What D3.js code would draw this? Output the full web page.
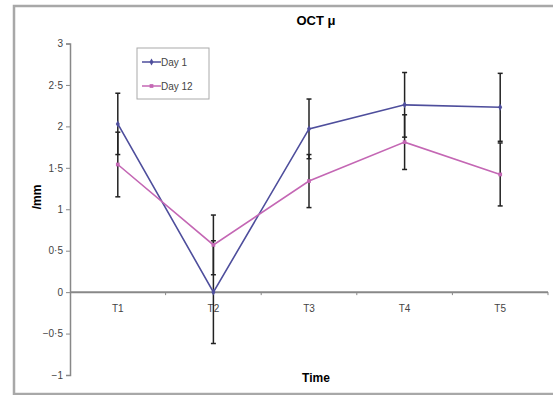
<!DOCTYPE html>
<html>
<head>
<meta charset="utf-8">
<script src="https://cdn.jsdelivr.net/npm/d3@7"></script>
<style>
  body { margin: 0; background: #fff; }
  svg { display: block; font-family: "Liberation Sans", Arial, sans-serif; }
</style>
</head>
<body>
<div id="container"></div>
<script>
// data
const categories = ["T1", "T2", "T3", "T4", "T5"];
const day1 = [2.03, 0.0, 1.97, 2.26, 2.23];
const day1Err = [0.37, 0.62, 0.36, 0.39, 0.41];
const day12 = [1.54, 0.57, 1.34, 1.81, 1.42];
const day12Err = [0.39, 0.36, 0.32, 0.33, 0.38];
const yTicks = [-1, -0.5, 0, 0.5, 1, 1.5, 2, 2.5, 3];
const seriesNames = ["Day 1", "Day 12"];

const w = 553, h = 395;

const svg = d3.select("#container")
              .append("svg")
              .attr("width", w)
              .attr("height", h);

// frame
svg.append("rect")
   .attr("x", 14).attr("y", 6)
   .attr("width", w + 10).attr("height", h - 7)
   .attr("fill", "#fff")
   .attr("stroke", "#a8a8a8")
   .attr("stroke-width", 2.5);

// scales
const xScale = d3.scaleBand()
                 .domain(categories)
                 .range([70, 548]);
const yScale = d3.scaleLinear()
                 .domain([-1, 3])
                 .range([375, 43.5]);

const fmt = (v) => (v < 0 ? "\u2212" : "") + String(Math.abs(v)).replace(".", "\u00b7");

// y axis
const yAxis = d3.axisLeft(yScale)
                .tickValues(yTicks)
                .tickSize(4)
                .tickFormat(fmt);
const gy = svg.append("g")
   .attr("transform", "translate(70, 0)")
   .call(yAxis);
gy.select(".domain").attr("stroke", "#888").attr("stroke-width", 1.5);
gy.selectAll(".tick line").attr("stroke", "#888");
gy.selectAll("text").attr("fill", "#444").style("font-size", "10px");

// x axis at zero
const gx = svg.append("g")
   .attr("transform", "translate(0," + yScale(0) + ")");
gx.append("line")
  .attr("x1", 70).attr("x2", 548)
  .attr("stroke", "#888").attr("stroke-width", 2);
gx.selectAll(".xt")
  .data(categories.slice(1).concat(["end"]))
  .enter().append("line")
  .attr("x1", (d, i) => xScale(categories[0]) + xScale.bandwidth() * (i + 1))
  .attr("x2", (d, i) => xScale(categories[0]) + xScale.bandwidth() * (i + 1))
  .attr("y1", 0).attr("y2", 3)
  .attr("stroke", "#888");
gx.selectAll(".xl")
  .data(categories)
  .enter().append("text")
  .attr("x", (d) => xScale(d) + xScale.bandwidth() / 2)
  .attr("y", 20)
  .attr("text-anchor", "middle")
  .attr("fill", "#444")
  .style("font-size", "10px")
  .text((d) => d);

const cx = (i) => xScale(categories[i]) + xScale.bandwidth() / 2;

// error bars
function errorBars(vals, errs) {
    const g = svg.append("g").attr("stroke", "#222").attr("stroke-width", 1.5);
    vals.forEach(function(v, i){
        g.append("line")
         .attr("x1", cx(i)).attr("x2", cx(i))
         .attr("y1", yScale(v + errs[i])).attr("y2", yScale(v - errs[i]));
        [v + errs[i], v - errs[i]].forEach(function(e){
            g.append("line")
             .attr("x1", cx(i) - 2.5).attr("x2", cx(i) + 2.5)
             .attr("y1", yScale(e)).attr("y2", yScale(e));
        });
    });
}
errorBars(day1, day1Err);
errorBars(day12, day12Err);

// lines
const line = d3.line()
               .x((d, i) => cx(i))
               .y((d) => yScale(d));
const colors = ["#4e4e9c", "#c467b4"];
[day1, day12].forEach(function(vals, k){
    svg.append("path")
       .datum(vals)
       .attr("fill", "none")
       .attr("stroke", colors[k])
       .attr("stroke-width", 1.6)
       .attr("d", line);
    svg.selectAll(".m" + k)
       .data(vals)
       .enter().append("path")
       .attr("transform", (d, i) => "translate(" + cx(i) + "," + yScale(d) + ")")
       .attr("d", d3.symbol().type(k === 0 ? d3.symbolDiamond : d3.symbolSquare).size(14))
       .attr("fill", colors[k]);
});

// legend
const lg = svg.append("g");
lg.append("rect")
  .attr("x", 137).attr("y", 48)
  .attr("width", 72).attr("height", 51)
  .attr("fill", "#fff")
  .attr("stroke", "#aaa");
seriesNames.forEach(function(name, k){
    const y = 62 + k * 24;
    lg.append("line")
      .attr("x1", 142).attr("x2", 161)
      .attr("y1", y).attr("y2", y)
      .attr("stroke", colors[k]).attr("stroke-width", 1.5);
    lg.append("path")
      .attr("transform", "translate(151.5," + y + ")")
      .attr("d", d3.symbol().type(k === 0 ? d3.symbolDiamond : d3.symbolSquare).size(14))
      .attr("fill", colors[k]);
    lg.append("text")
      .attr("x", 161).attr("y", y + 3.5)
      .attr("fill", "#444")
      .style("font-size", "10px")
      .text(name);
});

// titles
svg.append("text")
   .attr("x", 316).attr("y", 25)
   .attr("text-anchor", "middle")
   .style("font-size", "13px")
   .style("font-weight", "bold")
   .text("OCT \u03bc");

svg.append("text")
   .attr("x", 316).attr("y", 382)
   .attr("text-anchor", "middle")
   .style("font-size", "12px")
   .style("font-weight", "bold")
   .text("Time");

svg.append("text")
   .attr("transform", "translate(41,197) rotate(-90)")
   .attr("text-anchor", "middle")
   .style("font-size", "12px")
   .style("font-weight", "bold")
   .text("/mm");
</script>
</body>
</html>
